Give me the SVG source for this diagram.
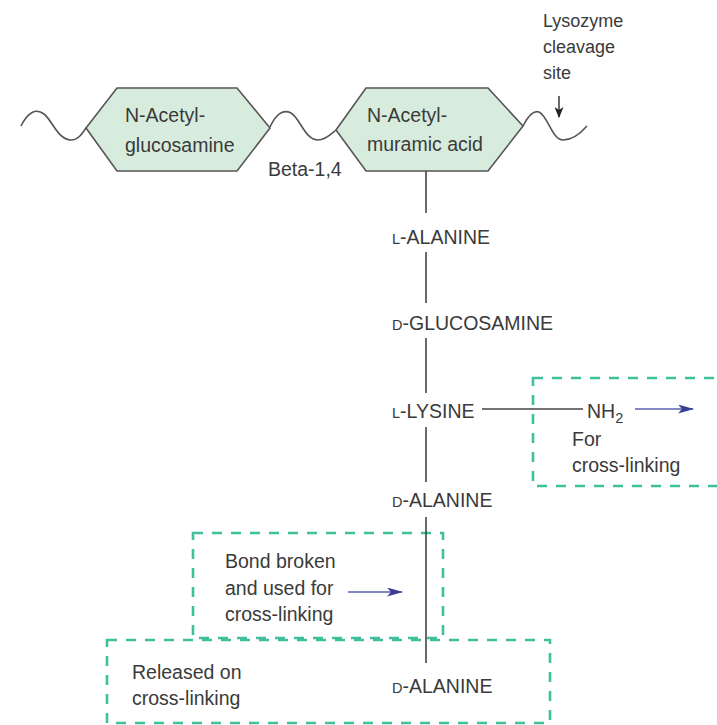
<svg xmlns="http://www.w3.org/2000/svg" width="717" height="725" viewBox="0 0 717 725">
<style>
text{font-family:"Liberation Sans",Arial,sans-serif;fill:#3a3a3a;font-size:19.5px}
.hex{fill:#d8ecdd;stroke:#555;stroke-width:1.6}
.wave{fill:none;stroke:#555;stroke-width:1.6}
.ln{stroke:#444;stroke-width:1.6;fill:none}
.box{fill:none;stroke:#3fbf9c;stroke-width:2.6;stroke-dasharray:10 9}
.blue{stroke:#5a5fb0;stroke-width:1.6;fill:none}
.sc{font-size:14.5px}
</style>
<defs>
<marker id="bh" viewBox="0 0 16 9" refX="15" refY="4.5" markerWidth="16" markerHeight="9" markerUnits="userSpaceOnUse" orient="auto"><path d="M0,0 L16,4.5 L0,9 L4,4.5 z" fill="#3a3d96"/></marker>
<marker id="kh" viewBox="0 0 11 9" refX="10" refY="4.5" markerWidth="11" markerHeight="9" markerUnits="userSpaceOnUse" orient="auto"><path d="M0,0 L11,4.5 L0,9 L3,4.5 z" fill="#222"/></marker>
</defs>
<g id="chain">
<path class="wave" d="M21,126 C28,112 36,108 44,114 C52,120 58,140 71,140 C78,140 82,134 86,128"/>
<path class="wave" d="M270,127 C276,114 283,109 291,113 C300,118 305,140 318,140 C326,140 331,134 336,130"/>
<path class="wave" d="M523,126 C528,116 533,110 539,112 C548,116 552,140 563,140 C572,140 580,134 587,126"/>
</g>
<g id="nag">
<polygon class="hex" points="86,128 117,88 237,88 270,128 237,171 117,171"/>
<text x="125" y="122">N-Acetyl-</text>
<text x="125" y="152">glucosamine</text>
</g>
<g id="nam">
<polygon class="hex" points="336,130 366,88 488,88 523,126 488,171 366,171"/>
<text x="367" y="122">N-Acetyl-</text>
<text x="367" y="151">muramic acid</text>
</g>
<g id="beta"><text x="268" y="176">Beta-1,4</text></g>
<g id="lysozyme">
<text x="543" y="27" style="font-size:18px">Lysozyme</text>
<text x="543" y="53" style="font-size:18px">cleavage</text>
<text x="543" y="79" style="font-size:18px">site</text>
</g>
<g id="lala"><text x="392" y="244"><tspan class="sc">L</tspan>-ALANINE</text></g>
<g id="dglu"><text x="392" y="330"><tspan class="sc">D</tspan>-GLUCOSAMINE</text></g>
<g id="llys"><text x="392" y="418"><tspan class="sc">L</tspan>-LYSINE</text></g>
<g id="dala1"><text x="392" y="507"><tspan class="sc">D</tspan>-ALANINE</text></g>
<g id="dala2"><text x="392" y="693"><tspan class="sc">D</tspan>-ALANINE</text></g>
<g id="nh2"><text x="587" y="418">NH<tspan dy="5" style="font-size:14.5px">2</tspan></text></g>
<g id="crossbox">
<rect class="box" x="533" y="378" width="200" height="108"/>
<text x="572" y="446">For</text>
<text x="572" y="472">cross-linking</text>
</g>
<g id="bondbox">
<rect class="box" x="193" y="533" width="250" height="105"/>
<text x="225" y="568">Bond broken</text>
<text x="225" y="595">and used for</text>
<text x="225" y="621">cross-linking</text>
</g>
<g id="releasebox">
<rect class="box" x="107" y="640" width="443" height="83"/>
<text x="132" y="679">Released on</text>
<text x="132" y="705">cross-linking</text>
</g>
<g id="connectors">
<line class="ln" x1="426" y1="171" x2="426" y2="213"/>
<line class="ln" x1="426" y1="252" x2="426" y2="303"/>
<line class="ln" x1="426" y1="338" x2="426" y2="393"/>
<line class="ln" x1="426" y1="427" x2="426" y2="482"/>
<line class="ln" x1="426" y1="517" x2="426" y2="663"/>
<line class="ln" x1="482" y1="409" x2="583" y2="409"/>
<line class="blue" x1="635" y1="409" x2="693" y2="409" marker-end="url(#bh)"/>
<line class="blue" x1="348" y1="592" x2="402" y2="592" marker-end="url(#bh)"/>
<line class="ln" x1="559" y1="96" x2="559" y2="117" marker-end="url(#kh)"/>
</g>
</svg>
